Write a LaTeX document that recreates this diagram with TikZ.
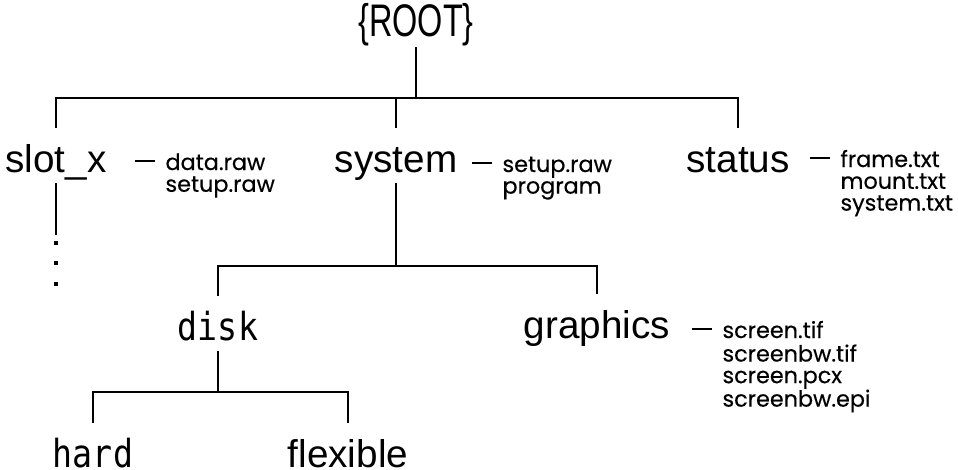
\documentclass[tikz,border=0pt]{standalone}
\usepackage{fontspec}
\setmainfont{Liberation Sans}
\newfontfamily\rootfont[FakeStretch=0.71]{Liberation Sans}
\newfontfamily\dirmono[FakeStretch=0.86]{DejaVu Sans Mono}
\newfontfamily\filefont[FakeBold=0.4]{Poppins}
\newcommand\filelist[1]{\begin{tabular}[t]{@{}l@{}}#1\end{tabular}}
\begin{document}
\begin{tikzpicture}[x=0.02cm, y=-0.02cm, line width=0.6pt,
  folder/.style={font=\fontsize{22}{26}\selectfont, anchor=base, text height=23pt, text depth=4pt, inner xsep=0pt, inner ysep=2pt},
  monofolder/.style={folder, font=\dirmono\fontsize{22}{26}\selectfont},
  files/.style={font=\filefont\fontsize{12.7}{12.3}\selectfont, anchor=base west, inner sep=0pt}]
\useasboundingbox (0,0) rectangle (958,470);
\node[font=\rootfont\fontsize{26}{30}\selectfont, inner sep=0pt] (root) at (416,25) {\{ROOT\}};
\node[folder] (slot) at (56,172) {slot\_x};
\node[folder] (system) at (396,172) {system};
\node[folder] (status) at (738,172) {status};
\node[monofolder] (disk) at (218,340) {disk};
\node[folder] (graphics) at (597,338) {graphics};
\node[monofolder] (hard) at (93,467) {hard};
\node[folder] (flexible) at (348,467) {flexible};
\node[files] (slotfiles) at (165,170) {\filelist{data.raw\\setup.raw}};
\node[files] (sysfiles) at (502,172) {\filelist{setup.raw\\program}};
\node[files] (statfiles) at (840,167) {\filelist{frame.txt\\mount.txt\\system.txt}};
\node[files] (grafiles) at (722,338) {\filelist{screen.tif\\screenbw.tif\\screen.pcx\\screenbw.epi}};
% tree
\draw (root.south) -- (root.south |- 0,98);
\draw (slot.north) |- (status.north |- 0,98) -- (status.north);
\draw (system.north) -- (system.north |- 0,98);
\draw (system.south) -- (system.south |- 0,266);
\draw (disk.north) |- (graphics.north |- 0,266) -- (graphics.north);
\draw (disk.south) -- (disk.south |- 0,392);
\draw (hard.north) |- (flexible.north |- 0,392) -- (flexible.north);
\draw (slot.south) -- (slot.south |- 0,235) coordinate (more);
\foreach \y in {243,263,284}
  \fill (more |- 0,\y) ++(-1.75,-1.75) rectangle ++(3.5,3.5);
% file lists
\foreach \f in {slotfiles,sysfiles,statfiles,grafiles}
  \draw ([shift={(-10,-9)}]\f.base west) -- ++(-20,0);
\end{tikzpicture}
\end{document}
